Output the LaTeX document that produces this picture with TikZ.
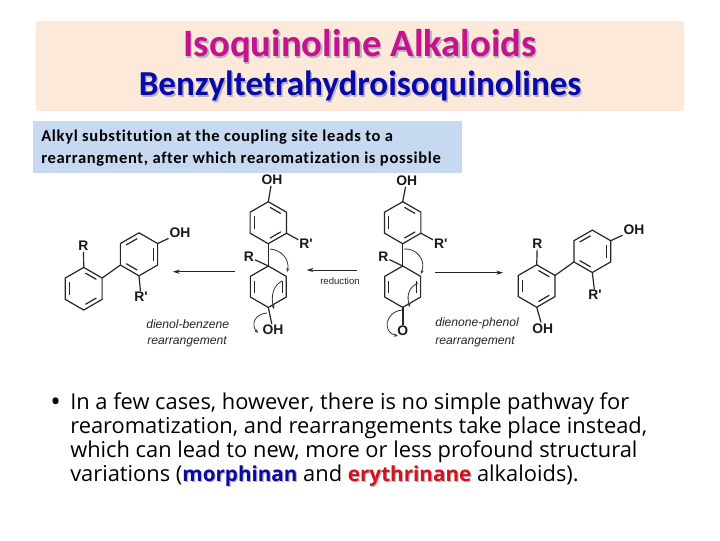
\documentclass[tikz,border=0pt]{standalone}
\usepackage{fontspec}
\setmainfont{Carlito}
\newfontfamily\notefont[LetterSpace=4,Ligatures=CommonOff]{Carlito}
\newfontfamily\bodyfont{Open Sans}
\newfontfamily\chemfont{Liberation Sans}
\usetikzlibrary{calc,arrows.meta}
\definecolor{titlebg}{HTML}{FDE9D9}
\definecolor{notebg}{HTML}{C6D9F1}
\definecolor{titlemag}{HTML}{C4148C}
\definecolor{titleblue}{HTML}{0A0AA8}
\definecolor{shadowgrey}{HTML}{B4B4C0}
\definecolor{termblue}{HTML}{0A0AA0}
\definecolor{termred}{HTML}{D0141E}
\newcommand{\hexring}[4]{%
  \coordinate (#1c) at (#2,#3);
  \foreach \k/\a in {1/-90,2/-30,3/30,4/90,5/150,6/210}{\coordinate (#1v\k) at ($(#1c)+(\a:#4)$);}
  \draw[bond] (#1v1)--(#1v2)--(#1v3)--(#1v4)--(#1v5)--(#1v6)--cycle;
}
\newcommand{\dbl}[3]{\draw[bond] ($(#1c)!.78!(#1v#2)!.12!($(#1c)!.78!(#1v#3)$)$) -- ($(#1c)!.78!(#1v#3)!.12!($(#1c)!.78!(#1v#2)$)$);}
\newcommand{\termtext}[2]{{\bfseries\fontsize{15.5}{18}\selectfont\rlap{\kern.9pt\raisebox{-.9pt}{\textcolor{shadowgrey}{#2}}}\textcolor{#1}{#2}}}
\tikzset{
  x=.75pt,y=-.75pt,
  bond/.style={line width=.9pt,black!85},
  atom/.style={font=\chemfont\bfseries\fontsize{10.4}{12}\selectfont,inner sep=.6pt,text=black!90},
  rxn/.style={line width=.7pt,black!85,-{Stealth[length=5pt,width=3.2pt]}},
  curly/.style={line width=.6pt,black!80,-{Stealth[length=3pt,width=2.4pt]}},
  lbl/.style={font=\chemfont\itshape\fontsize{9.1}{10}\selectfont,inner sep=0pt,text=black!85,anchor=west},
  ttla/.style={font=\bfseries\fontsize{29}{32}\selectfont,inner sep=0pt},
  ttlb/.style={font=\bfseries\fontsize{26.3}{30}\selectfont,inner sep=0pt},
  notetxt/.style={font=\notefont\bfseries\fontsize{12.4}{14}\selectfont,inner sep=0pt,anchor=base west,text=black},
  bodytxt/.style={font=\bodyfont\fontsize{16.4}{18}\selectfont,inner sep=0pt,anchor=base west,text=black},
}
\begin{document}
\begin{tikzpicture}
\useasboundingbox (0,0) rectangle (720,540);
\fill[white] (0,0) rectangle (720,540);
\fill[titlebg] (36,21) rectangle (684,111);
\fill[notebg] (33,121) rectangle (462,173);
% titles
\node[ttla,text=shadowgrey] at (361.5,47.5) {Isoquinoline Alkaloids};
\node[ttla,text=titlemag] (t1) at (360,46) {Isoquinoline Alkaloids};
\node[ttlb,text=shadowgrey] at (361.5,87.5) {Benzyltetrahydroisoquinolines};
\node[ttlb,text=titleblue] (t2) at (360,86) {Benzyltetrahydroisoquinolines};
% note
\node[notetxt] (n1) at (41,141) {Alkyl substitution at the coupling site leads to a};
\node[notetxt] (n2) at (41,163) {rearrangment, after which rearomatization is possible};
% left biphenyl
\hexring{a}{83.7}{288.7}{21.3}
\dbl{a}{1}{2}\dbl{a}{3}{4}\dbl{a}{5}{6}
\hexring{b}{139}{254.3}{21.5}
\dbl{b}{6}{1}\dbl{b}{2}{3}\dbl{b}{4}{5}
\draw[bond] (av2)--(bv5);
\node[atom] (ar) at (83.5,246) {R};
\node[atom] (bo) at (180,233) {OH};
\node[atom] (br) at (141,297) {R'};
\draw[bond] (av1)--(ar); \draw[bond] (bv2)--(bo); \draw[bond] (bv4)--(br);
% middle 1
\hexring{c}{268.3}{222.7}{21}
\dbl{c}{5}{6}\dbl{c}{1}{2}\dbl{c}{3}{4}
\hexring{d}{268.3}{286.7}{20.7}
\dbl{d}{5}{6}\dbl{d}{2}{3}
\draw[bond] (cv4)--(dv1);
\node[atom] (co) at (272,180) {OH};
\node[atom] (cr) at (306,244) {R'};
\node[atom] (dr) at (249,257) {R};
\node[atom] (do) at (273,330) {OH};
\draw[bond] (cv1)--(co); \draw[bond] (cv3)--(cr); \draw[bond] (dv1)--(dr); \draw[bond] (dv4)--(do);
\coordinate (k1s) at (270,249); \coordinate (k1e) at (287,272);
\draw[curly] (k1s) .. controls (282,250) and (290,260) .. (k1e);
\coordinate (k2s) at (282,281); \coordinate (k2e) at (274,309);
\draw[curly] (k2s) .. controls (272,286) and (271,298) .. (k2e);
\coordinate (k3s) at (267,313); \coordinate (k3e) at (258,333);
\draw[curly] (k3s) .. controls (254,314) and (251,325) .. (k3e);
% middle 2
\hexring{e}{402.7}{222.7}{21}
\dbl{e}{5}{6}\dbl{e}{1}{2}\dbl{e}{3}{4}
\hexring{f}{402.7}{286.7}{20.7}
\dbl{f}{5}{6}\dbl{f}{2}{3}
\draw[bond] (ev4)--(fv1);
\node[atom] (eo) at (406.7,180.7) {OH};
\node[atom] (er) at (440.7,244) {R'};
\node[atom] (fr) at (383.3,256.7) {R};
\node[atom] (fo) at (402.7,331) {O};
\draw[bond] (ev1)--(eo); \draw[bond] (ev3)--(er); \draw[bond] (fv1)--(fr);
\draw[bond,line width=1.3pt] (fv4)--(fo.north);
\coordinate (m1s) at (404,249); \coordinate (m1e) at (421,274);
\draw[curly] (m1s) .. controls (417,248) and (426,260) .. (m1e);
\coordinate (m2s) at (418,283); \coordinate (m2e) at (410,307);
\draw[curly] (m2s) .. controls (407,288) and (407,298) .. (m2e);
\coordinate (m3s) at (402,310); \coordinate (m3e) at (398,336);
\draw[curly] (m3s) .. controls (385,312) and (382,332) .. (m3e);
% right biphenyl
\hexring{g}{536.7}{286}{21.2}
\dbl{g}{1}{2}\dbl{g}{3}{4}\dbl{g}{5}{6}
\hexring{h}{592.3}{251.3}{21.2}
\dbl{h}{6}{1}\dbl{h}{2}{3}\dbl{h}{4}{5}
\draw[bond] (gv2)--(hv5);
\node[atom] (gr) at (537.3,244) {R};
\node[atom] (go) at (542.7,328.3) {OH};
\node[atom] (ho) at (634,230) {OH};
\node[atom] (hr) at (595,295) {R'};
\draw[bond] (gv1)--(gr); \draw[bond] (gv4)--(go); \draw[bond] (hv2)--(ho); \draw[bond] (hv4)--(hr);
% reaction arrows
\coordinate (r1s) at (235,271.7); \coordinate (r1e) at (173,271.7);
\coordinate (r2s) at (356.7,270); \coordinate (r2e) at (306.7,270);
\coordinate (r3s) at (435,272.7); \coordinate (r3e) at (503,272.7);
\draw[rxn] (r1s)--(r1e); \draw[rxn] (r2s)--(r2e); \draw[rxn] (r3s)--(r3e);
\node[font=\chemfont\fontsize{7.2}{9}\selectfont,inner sep=0pt,text=black!85] (rd) at (340,281) {reduction};
\node[lbl] (l1) at (146,324) {dienol-benzene};
\node[lbl] (l2) at (147,342) {rearrangement};
\node[lbl] (l3) at (435,323) {dienone-phenol};
\node[lbl] (l4) at (435,342) {rearrangement};
% bullet
\node[bodytxt,font=\bodyfont\fontsize{21}{22}\selectfont] (bu) at (50,411) {•};
\node[bodytxt] (b1) at (70,409) {In a few cases, however, there is no simple pathway for};
\node[bodytxt] (b2) at (70,433) {rearomatization, and rearrangements take place instead,};
\node[bodytxt] (b3) at (70,457) {which can lead to new, more or less profound structural};
\node[bodytxt] (b4) at (70,481) {variations (\termtext{termblue}{morphinan} and \termtext{termred}{erythrinane} alkaloids).};
\end{tikzpicture}
\end{document}
